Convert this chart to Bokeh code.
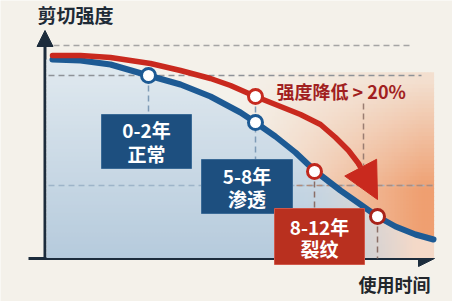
import numpy as np
from bokeh.plotting import figure
from bokeh.models import Range1d, Arrow, NormalHead
from bokeh.core.properties import value
from bokeh.embed import file_html
from bokeh.resources import INLINE

W, H = 452, 301

# ---- data (x = time position, s = shear strength) ----
blue_t = [52, 80, 110, 148, 180, 210, 240, 255, 275, 295, 314, 340, 360, 377, 395, 415, 433]
blue_s = [242, 241, 237, 226, 217, 205, 189, 179, 165, 149, 131, 111, 97, 85, 75, 67, 62]
red_t = [52, 80, 110, 150, 180, 210, 230, 255, 280, 300, 320, 335, 348, 358]
red_s = [246, 246, 244, 238, 231, 223, 216, 205, 195, 187, 177, 164, 151, 138]
red_arrow_tip = (377, 102)

marker_t = [148, 255, 255, 314, 377]
marker_s = [226, 205, 179, 130, 85]
marker_edge = ["#1d5a94", "#c62a1f", "#1d5a94", "#c0281d", "#a8231a"]

ref_levels = [256, 226, 116]
ref_from = [53, 48, 48]
ref_to = [413, 421, 432]

drop_t = [148, 255, 314, 377, 363]
drop_top = [226, 205, 130, 85, 198]
drop_bottom = [187, 142, 93, 43, 136]
drop_color = ["#7e9bb6", "#7e9bb6", "#8a6e66", "#8a6e66", "#9a7d72"]

stage_line1 = ["0-2年", "5-8年", "8-12年"]
stage_line2 = ["正常", "渗透", "裂纹"]
stage_color = ["#1d4f7f", "#1d4f7f", "#b9301f"]

y_title = "剪切强度"
x_title = "使用时间"
note = "强度降低 > 20%"

FONT = value("Noto Sans CJK SC")
BG = "#f4f1ea"
BLUE = "#1d5a94"
RED = "#c9291e"
AX = "#1c2c3c"


def hx(c):
    c = c.lstrip("#")
    return np.array([int(c[i:i + 2], 16) for i in (0, 2, 4)], dtype=float)


def blend(c1, c2, t):
    a, b = hx(c1), hx(c2)
    r = a + (b - a) * t
    return "#%02x%02x%02x" % tuple(int(round(v)) for v in r)


p = figure(width=W, height=H, x_range=Range1d(0, W), y_range=Range1d(0, H),
           output_backend="svg", toolbar_location=None, min_border=0,
           x_axis_location=None, y_axis_location=None,
           background_fill_color=BG, border_fill_color=BG, outline_line_color=None)
p.grid.visible = False

# ---- background gradient fills built from the blue curve ----
L, R, T, B = [], [], [], []
C = []
step_x, step_y = 3, 4
for x0 in np.arange(46, 433, step_x):
    xc = x0 + step_x / 2
    cs = np.interp(xc, blue_t, blue_s)          # curve strength at this column
    cpy = H - cs
    for r0 in np.arange(56, 258, step_y):
        r1 = min(r0 + step_y, 257)
        # below the curve: blue gradient turning peach on the right
        if r1 > cpy:
            top = max(r0, cpy)
            t = np.clip((top - 60) / 198.0, 0, 1)
            col = blend("#e0e9ef", "#b5cadc", t)
            pk = np.clip((xc - 300) / 115.0, 0, 1) ** 1.4
            col = blend(col, "#f4d9c8", pk)
            L.append(x0); R.append(x0 + step_x + 0.6)
            T.append(H - top); B.append(H - r1 - 0.6)
            C.append(col)
        # above the curve: orange warning zone
        if xc >= 236 and r0 >= 72 and r0 < cpy:
            bot = min(r1, cpy)
            a = np.clip((xc - 236) / 185.0, 0, 1)
            b = np.clip((r0 - 78) / 110.0, 0, 1)
            amt = 0.88 * a * (0.22 + 0.78 * b)
            col = blend(BG, "#ee9460", amt)
            L.append(x0); R.append(x0 + step_x + 0.6)
            T.append(H - r0 + 0.3); B.append(H - bot - 0.6)
            C.append(col)
p.quad(left=L, right=R, top=T, bottom=B, fill_color=C, line_color=None)

# ---- axes ----
p.add_layout(Arrow(end=NormalHead(size=16, fill_color=AX, line_color=AX),
                   x_start=28, y_start=43, x_end=434, y_end=43,
                   line_color=AX, line_width=3, level="underlay"))
p.add_layout(Arrow(end=NormalHead(size=16, fill_color=AX, line_color=AX),
                   x_start=44.5, y_start=43, x_end=44.5, y_end=271,
                   line_color=AX, line_width=3, level="underlay"))

# ---- dashed reference lines ----
ref_cols = ["#a5a5a5", "#8e9298", "#9db4c8"]
for lv, x0, x1, c in zip(ref_levels, ref_from, ref_to, ref_cols):
    p.line([x0, x1], [lv, lv], line_color=c, line_width=1.5, line_dash="6 4")
p.line([296, 432], [116, 116], line_color="#b08c7c", line_width=1.5, line_dash="6 4")

for t, a, b, c in zip(drop_t, drop_top, drop_bottom, drop_color):
    p.line([t, t], [a, b], line_color=c, line_width=1.5, line_dash="6 4")

# ---- curves ----
p.line(blue_t, blue_s, line_color=BLUE, line_width=6, line_cap="round", line_join="round")
p.line(red_t, red_s, line_color=RED, line_width=5.5, line_cap="round", line_join="round")
p.add_layout(Arrow(end=NormalHead(size=36, fill_color=RED, line_color=RED),
                   x_start=red_t[-1], y_start=red_s[-1],
                   x_end=red_arrow_tip[0], y_end=red_arrow_tip[1],
                   line_color=RED, line_width=5.5))

# ---- markers ----
p.scatter(marker_t, marker_s, size=14, fill_color="white", line_color=marker_edge, line_width=3)

# ---- stage boxes ----
box_l = [101, 201, 274]
box_r = [191, 292, 364]
box_t = [H - 114, H - 159, H - 208]
box_b = [H - 168, H - 213, H - 264]
p.quad(left=box_l, right=box_r, top=box_t, bottom=box_b, fill_color=stage_color,
       line_color=["#3a6a96", "#3a6a96", "#d0584a"], line_width=1)
cx = [(a + b) / 2 for a, b in zip(box_l, box_r)]
p.text(cx, [H - 129, H - 175, H - 226], text=stage_line1, text_font=FONT,
       text_font_size="19px", text_font_style="bold", text_color="white",
       text_align="center", text_baseline="middle")
p.text(cx, [H - 153, H - 198, H - 248], text=stage_line2, text_font=FONT,
       text_font_size="19px", text_font_style="bold", text_color="white",
       text_align="center", text_baseline="middle")

# ---- titles and note ----
p.text([37], [H - 14], text=[y_title], text_font=FONT, text_font_size="19px",
       text_font_style="bold", text_color="#1e2a36", text_align="left", text_baseline="middle")
p.text([430], [H - 283], text=[x_title], text_font=FONT, text_font_size="18px",
       text_font_style="bold", text_color="#22262b", text_align="right", text_baseline="middle")
p.text([276], [H - 90], text=[note], text_font=FONT, text_font_size="18px",
       text_font_style="bold", text_color="#a11f1f", text_align="left", text_baseline="middle")

open("out.html", "w").write(file_html(p, INLINE))
